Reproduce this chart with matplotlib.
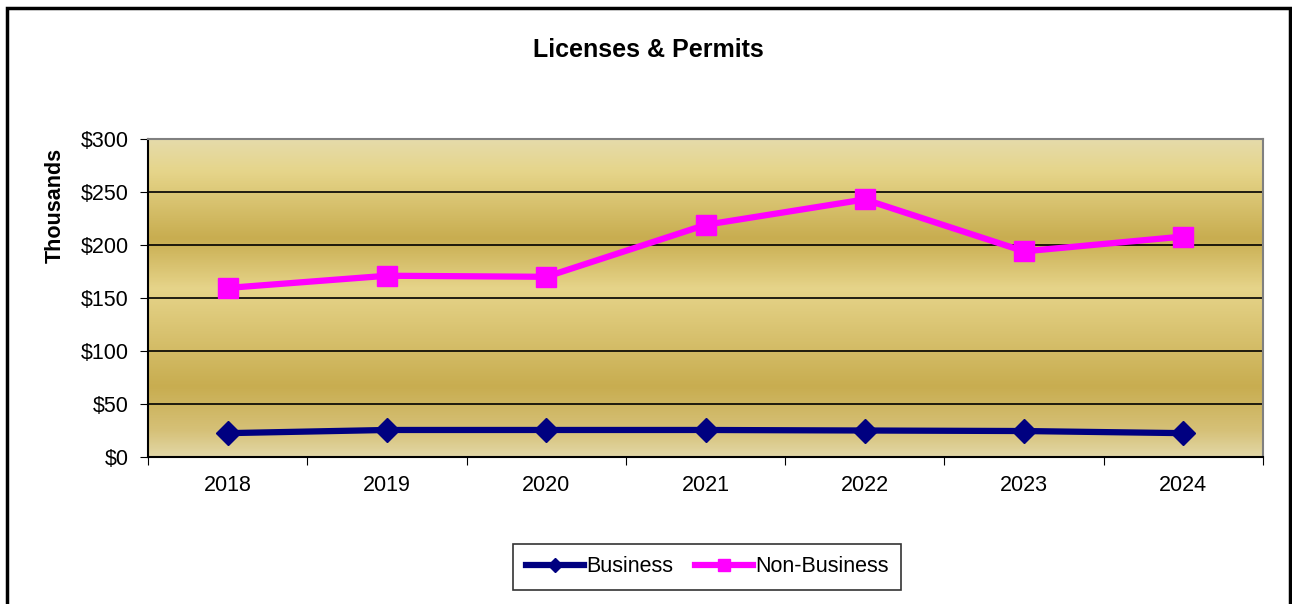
import numpy as np
import matplotlib.pyplot as plt
from matplotlib.colors import LinearSegmentedColormap
from matplotlib.patches import Rectangle

plt.rcParams['font.family'] = ['Liberation Sans', 'DejaVu Sans']

# Data
years = ['2018', '2019', '2020', '2021', '2022', '2023', '2024']
business = [22.5, 25.5, 25.5, 25.5, 25, 24.5, 22.5]
non_business = [159.5, 171, 170, 219, 243, 194, 208]
y_ticks = [0, 50, 100, 150, 200, 250, 300]

fig = plt.figure(figsize=(12.92, 6.04), dpi=100)
ax = fig.add_axes([148 / 1292, 1 - 457 / 604, (1263 - 148) / 1292, (457 - 139) / 604])

# Gold gradient background (axes fraction, 0 = bottom)
gold = LinearSegmentedColormap.from_list('gold', [
    (0.00, '#E2D7A6'),
    (0.08, '#D6C178'),
    (0.22, '#C8AD50'),
    (0.53, '#E6D48A'),
    (0.69, '#C8AD50'),
    (0.90, '#E6D58A'),
    (1.00, '#E5DBAA'),
])
grad = np.linspace(0, 1, 400).reshape(-1, 1)
ax.imshow(grad, aspect='auto', cmap=gold, origin='lower',
          extent=[0, 7, 0, 300], zorder=0)

x = np.arange(len(years)) + 0.5
ax.plot(x, business, color='#000080', lw=4.5, marker='D', ms=12,
        label='Business', zorder=4)
ax.plot(x, non_business, color='#FF00FF', lw=4.5, marker='s', ms=14,
        label='Non-Business', zorder=4)

ax.set_xlim(0, 7)
ax.set_ylim(0, 300)
ax.set_yticks(y_ticks)
ax.set_yticklabels(['${}'.format(v) for v in y_ticks])
ax.set_xticks(np.arange(8))
ax.set_xticklabels([])
ax.set_xticks(x, minor=True)
ax.set_xticklabels(years, minor=True)
ax.tick_params(axis='x', which='minor', length=0, pad=13, labelsize=15.5)
ax.tick_params(axis='x', which='major', length=6, direction='out')
ax.tick_params(axis='y', length=6, direction='out', labelsize=15.5, pad=8)

for v in y_ticks[1:-1]:
    ax.axhline(v, color='black', lw=1.2, zorder=2)

ax.spines['left'].set_color('black')
ax.spines['bottom'].set_color('black')
ax.spines['top'].set_color('#808080')
ax.spines['right'].set_color('#808080')
for s in ax.spines.values():
    s.set_linewidth(1.5)

fig.text(55 / 1292, 1 - 205 / 604, 'Thousands', rotation=90, ha='center', va='center',
         fontsize=15.5, fontweight='bold')
fig.text(648 / 1292, 1 - 50 / 604, 'Licenses & Permits', ha='center', va='center',
         fontsize=18, fontweight='bold')

leg = fig.legend(loc='center', bbox_to_anchor=(707 / 1292, 1 - 567 / 604), ncol=2,
                 fontsize=15.5, frameon=True, fancybox=False, edgecolor='black',
                 handlelength=2.7, handletextpad=0.1, columnspacing=1.0,
                 borderpad=0.6, markerscale=0.6)
leg.get_frame().set_linewidth(1.2)

# outer border
fig.patches.append(Rectangle((7 / 1292, -0.02), 1283 / 1292, 1 - 8 / 604 + 0.02,
                             transform=fig.transFigure, fill=False,
                             edgecolor='black', lw=2.5))

fig.savefig('out.png', dpi=100)
